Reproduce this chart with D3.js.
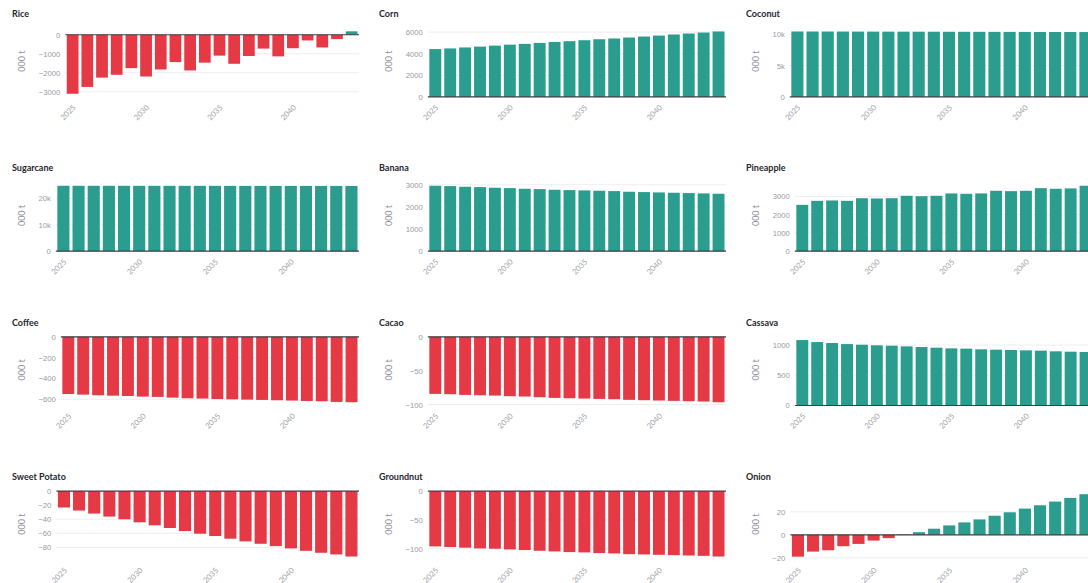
<!DOCTYPE html>
<html>
<head>
<meta charset="utf-8">
<script src="https://cdn.jsdelivr.net/npm/d3@7"></script>
<style>
  html, body { margin: 0; padding: 0; background: #ffffff; overflow: hidden; }
  svg { display: block; font-family: Lato, "Noto Sans", sans-serif; }
</style>
</head>
<body>
<svg id="chart" width="1088" height="583"></svg>
<script>
// Projected production change by crop, thousand tonnes per year
const years = [2025, 2026, 2027, 2028, 2029, 2030, 2031, 2032, 2033, 2034,
               2035, 2036, 2037, 2038, 2039, 2040, 2041, 2042, 2043, 2044];
const yearTicks = [2025, 2030, 2035, 2040];

const crops = ["Rice", "Corn", "Coconut", "Sugarcane", "Banana", "Pineapple",
               "Coffee", "Cacao", "Cassava", "Sweet Potato", "Groundnut", "Onion"];

const rice = [-3110, -2750, -2260, -2110, -1760, -2200, -1830, -1440, -1880, -1470,
              -1100, -1530, -1120, -730, -1140, -710, -300, -670, -230, 180];
const corn = [4430, 4490, 4580, 4660, 4750, 4840, 4910, 5000, 5090, 5160,
              5250, 5340, 5410, 5500, 5590, 5680, 5780, 5870, 5960, 6060];
const coconut = [10450, 10445, 10440, 10438, 10432, 10428, 10422, 10418, 10412, 10408,
                 10402, 10398, 10392, 10388, 10382, 10378, 10372, 10368, 10362, 10358];
const sugarcane = [24800, 24800, 24790, 24790, 24790, 24780, 24780, 24780, 24770, 24770,
                   24770, 24760, 24760, 24760, 24750, 24750, 24750, 24740, 24740, 24740];
const banana = [2955, 2940, 2910, 2895, 2865, 2850, 2820, 2805, 2775, 2760,
                2745, 2730, 2715, 2685, 2670, 2655, 2640, 2625, 2610, 2595];
const pineapple = [2540, 2760, 2780, 2760, 2905, 2890, 2905, 3035, 3015, 3035,
                   3165, 3145, 3165, 3310, 3290, 3310, 3455, 3420, 3440, 3585];
const coffee = [-549, -555, -561, -565, -568, -574, -577, -584, -590, -593,
                -597, -600, -603, -606, -609, -612, -616, -619, -625, -628];
const cacao = [-84.3, -84.8, -85.8, -86.3, -86.8, -87.7, -88.2, -89.2, -90.2, -90.7,
               -91.2, -91.7, -92.2, -93.1, -93.6, -94.1, -94.6, -95.1, -95.6, -96.6];
const cassava = [1082, 1049, 1033, 1016, 1005, 995, 989, 978, 967, 956,
                 945, 940, 929, 923, 918, 912, 907, 896, 890, 885];
const sweetPotato = [-23.3, -27.6, -31.9, -36.2, -40.0, -44.3, -48.6, -52.4, -56.7, -60.5,
                     -63.8, -67.6, -71.4, -74.8, -78.1, -81.4, -84.8, -87.6, -90.0, -92.9];
const groundnut = [-95.9, -97.1, -98.2, -99.4, -100.0, -101.2, -102.3, -103.5, -104.7, -105.8,
                   -106.4, -107.6, -108.2, -109.4, -109.9, -110.5, -111.1, -111.7, -112.3, -113.5];
const onion = [-19.0, -14.6, -13.4, -9.9, -7.9, -5.0, -2.9, 0.4, 2.3, 5.3,
               8.2, 10.8, 13.4, 16.6, 19.6, 22.8, 25.7, 28.9, 32.1, 35.3];

const riceTicks = [0, -1000, -2000, -3000];
const cornTicks = [0, 2000, 4000, 6000];
const coconutTicks = [0, 5000, 10000];
const sugarcaneTicks = [0, 10000, 20000];
const bananaTicks = [0, 1000, 2000, 3000];
const pineappleTicks = [0, 1000, 2000, 3000];
const coffeeTicks = [0, -200, -400, -600];
const cacaoTicks = [0, -50, -100];
const cassavaTicks = [0, 500, 1000];
const sweetPotatoTicks = [0, -20, -40, -60, -80];
const groundnutTicks = [0, -50, -100];
const onionTicks = [-20, 0, 20];

const unitLabel = "000 t";

const seriesByCrop = [rice, corn, coconut, sugarcane, banana, pineapple,
                      coffee, cacao, cassava, sweetPotato, groundnut, onion];
const ticksByCrop = [riceTicks, cornTicks, coconutTicks, sugarcaneTicks, bananaTicks, pineappleTicks,
                     coffeeTicks, cacaoTicks, cassavaTicks, sweetPotatoTicks, groundnutTicks, onionTicks];

// Layout of the 3-column grid of small multiples
const colPitch = 367, rowPitch = 154.3;
const plotTop = 28.2, plotHeight = 68.7, plotRightOffset = 359;
const tickFont = 7.7, axisTitleFont = 9, titleFont = 9;
const posColor = "#2a9d8f", negColor = "#e63946";

const svg = d3.select("#chart");

crops.forEach((name, i) => {
  const values = seriesByCrop[i];
  const ticks = ticksByCrop[i];
  const col = i % 3, row = Math.floor(i / 3);
  const x0 = col * colPitch, y0 = row * rowPitch;
  const g = svg.append("g").attr("transform", `translate(${x0},${y0})`);

  const maxAbsTick = d3.max(ticks, t => Math.abs(t));
  const fmt = maxAbsTick >= 10000 ? d3.format("~s") : d3.format("");

  // measure tick label widths to set the left margin
  const probe = g.append("g").attr("font-size", tickFont);
  let maxW = 0;
  ticks.forEach(t => {
    const tt = probe.append("text").text(fmt(t));
    maxW = Math.max(maxW, tt.node().getComputedTextLength());
  });
  probe.remove();

  const left = 38 + maxW + 5;
  const right = plotRightOffset;

  // value domain: include zero, pad 5% on non-zero sides
  const lo = Math.min(0, d3.min(values)), hi = Math.max(0, d3.max(values));
  const span = hi - lo;
  const dLo = lo < 0 ? lo - 0.05 * span : 0;
  const dHi = hi > 0 ? hi + 0.05 * span : 0;

  const x = d3.scaleBand().domain(years).range([left, right]).paddingInner(0.2).paddingOuter(0.1);
  const y = d3.scaleLinear().domain([dLo, dHi]).range([plotTop + plotHeight, plotTop]);

  // panel title
  g.append("text")
    .attr("x", 12).attr("y", 13.5)
    .attr("dominant-baseline", "central")
    .attr("font-size", titleFont)
    .attr("font-weight", 700)
    .attr("fill", "#262730")
    .text(name);

  // gridlines
  g.append("g")
    .selectAll("line")
    .data(ticks.filter(t => t !== 0))
    .join("line")
    .attr("x1", left).attr("x2", right)
    .attr("y1", d => y(d)).attr("y2", d => y(d))
    .attr("stroke", "#eeeef0").attr("stroke-width", 1);

  // y axis labels
  const yAxis = d3.axisLeft(y).tickValues(ticks).tickFormat(fmt).tickSize(0).tickPadding(5);
  const ya = g.append("g").attr("transform", `translate(${left},0)`).call(yAxis);
  ya.select(".domain").remove();
  ya.selectAll("text")
    .attr("font-family", null)
    .attr("font-size", tickFont)
    .attr("fill", "#9a9aa6");

  // y axis title
  g.append("text")
    .attr("transform", `translate(21,${plotTop + 33}) rotate(-90)`)
    .attr("text-anchor", "middle")
    .attr("dominant-baseline", "central")
    .attr("font-size", axisTitleFont)
    .attr("fill", "#8e8ea0")
    .text(unitLabel);

  // bars
  g.append("g")
    .selectAll("rect")
    .data(values.map((v, k) => ({ year: years[k], v })))
    .join("rect")
    .attr("x", d => x(d.year))
    .attr("width", x.bandwidth())
    .attr("y", d => Math.min(y(d.v), y(0)))
    .attr("height", d => Math.abs(y(d.v) - y(0)))
    .attr("fill", d => d.v >= 0 ? posColor : negColor);

  // zero line
  g.append("line")
    .attr("x1", left).attr("x2", right)
    .attr("y1", y(0)).attr("y2", y(0))
    .attr("stroke", "#3c3c44").attr("stroke-width", 1.2);

  // rotated year labels
  const xb = plotTop + plotHeight;
  g.append("g")
    .selectAll("text")
    .data(yearTicks)
    .join("text")
    .attr("transform", d => `translate(${x(d) + x.bandwidth() / 2 + 1.5},${xb + 9}) rotate(-45)`)
    .attr("text-anchor", "end")
    .attr("dominant-baseline", "central")
    .attr("font-size", tickFont)
    .attr("fill", "#a4a4ae")
    .text(d => d);
});
</script>
</body>
</html>
